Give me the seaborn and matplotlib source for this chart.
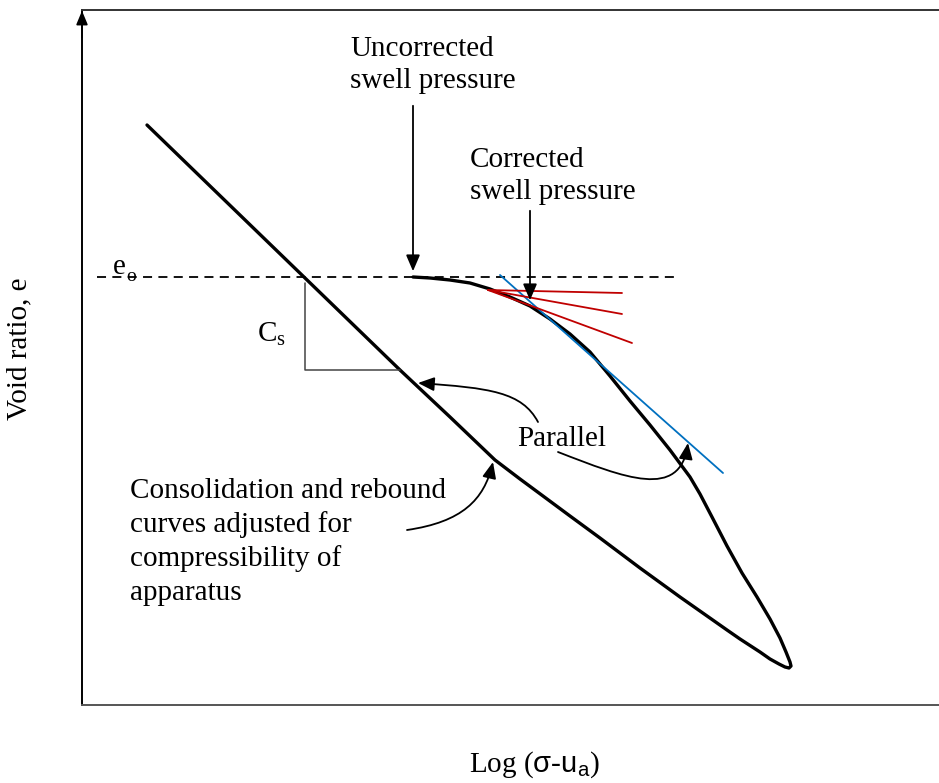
import matplotlib
matplotlib.use("Agg")
import matplotlib.pyplot as plt
import numpy as np
import pandas as pd
import seaborn as sns
from matplotlib.path import Path
from matplotlib.patches import FancyArrowPatch

sns.set_theme(style="white")
plt.rcParams["font.family"] = ["Liberation Serif", "DejaVu Serif"]
plt.rcParams["text.color"] = "black"
plt.rcParams["mathtext.fontset"] = "custom"
plt.rcParams["mathtext.rm"] = "Liberation Serif"
plt.rcParams["mathtext.it"] = "Liberation Serif:italic"
plt.rcParams["mathtext.sf"] = "Liberation Sans"

# Schematic coordinates: x = log stress (left -> right), y = void ratio drawn downward
# Compression (loading) branch from the uncorrected swell point to the tip of the loop
load_x = [413, 430, 450, 470, 490, 510, 530, 550, 570, 590, 610, 630, 650, 670,
          690, 700, 712, 727, 742, 757, 770, 780, 786, 790, 791, 789, 785, 779]
load_y = [277, 278, 280, 283, 289, 297, 306, 319, 334, 352, 376, 401, 425, 450,
          477, 494, 517, 546, 573, 597, 619, 638, 652, 662, 666, 668, 667, 664]
# Rebound branch back up to the left
reb_x = [770, 760, 740, 727, 680, 640, 600, 570, 543, 520, 495, 450, 400, 305, 147]
reb_y = [659, 652, 639, 630, 597, 568, 538, 516, 496, 479, 460, 417, 370, 278, 125]

e0_level = 277
e0_span = [97, 677]

# Tangent (blue) parallel to rebound slope and the red construction lines
tangent_x = [500, 723]
tangent_y = [275, 473]
fan_origin = (488, 290)
fan_ends_x = [622, 622, 632]
fan_ends_y = [293, 314, 343]

# Cs slope triangle
cs_x = [305, 305, 400]
cs_y = [283, 370, 370]

curve = pd.DataFrame({
    "x": load_x + reb_x,
    "y": load_y + reb_y,
    "order": range(len(load_x) + len(reb_x)),
})

fig = plt.figure(figsize=(9.39, 7.83), dpi=100)
ax = fig.add_axes([82 / 939, 1 - 705 / 783, 1 - 82 / 939, (705 - 10) / 783])
ax.set_xlim(82, 939)
ax.set_ylim(705, 10)
ax.set_xticks([])
ax.set_yticks([])
ax.spines["right"].set_visible(False)
ax.spines["left"].set_color("black")
ax.spines["top"].set_color("#333333")
ax.spines["bottom"].set_color("#555555")
for s in ("left", "top", "bottom"):
    ax.spines[s].set_linewidth(1.4)

# arrow tip on the vertical axis
ax.annotate("", xy=(82, 8), xytext=(82, 40),
            arrowprops=dict(arrowstyle="-|>,head_length=0.6,head_width=0.25",
                            color="black", lw=1.2, mutation_scale=14),
            annotation_clip=False)

# e0 reference line
ax.plot(e0_span, [e0_level, e0_level], color="black", lw=1.3, ls=(0, (5, 3.5)))

# consolidation / rebound curve
sns.lineplot(data=curve, x="x", y="y", sort=False, estimator=None, ax=ax,
             color="black", lw=2.4, solid_joinstyle="round", solid_capstyle="round")
ax.set_xlabel("")
ax.set_ylabel("")

# Cs triangle
ax.plot(cs_x, cs_y, color="#444444", lw=1.1)

# tangent and fan lines
ax.plot(tangent_x, tangent_y, color="#0070C0", lw=1.3)
for ex, ey in zip(fan_ends_x, fan_ends_y):
    ax.plot([fan_origin[0], ex], [fan_origin[1], ey], color="#C00000", lw=1.3)

arrow_kw = dict(arrowstyle="-|>,head_length=0.7,head_width=0.3",
                color="black", lw=1.3, mutation_scale=14)

# vertical pointers for swell pressures
ax.annotate("", xy=(413, 274), xytext=(413, 103), arrowprops=arrow_kw)
ax.annotate("", xy=(530, 303), xytext=(530, 208), arrowprops=arrow_kw)


def curved_arrow(pts):
    codes = [Path.MOVETO, Path.CURVE4, Path.CURVE4, Path.CURVE4]
    p = FancyArrowPatch(path=Path(pts, codes), **arrow_kw)
    ax.add_patch(p)


curved_arrow([(538, 422), (522, 392), (490, 388), (418, 383)])
curved_arrow([(558, 452), (625, 478), (680, 500), (688, 443)])
curved_arrow([(407, 530), (462, 522), (484, 500), (493, 462)])

fs = 21
ax.text(350, 56, "Uncorrected", fontsize=fs, va="baseline", ha="left")
ax.text(350, 88, "swell pressure", fontsize=fs, va="baseline", ha="left")
ax.text(470, 167, "Corrected", fontsize=fs, va="baseline", ha="left")
ax.text(470, 199, "swell pressure", fontsize=fs, va="baseline", ha="left")
ax.text(517, 446, "Parallel", fontsize=fs, va="baseline", ha="left")
for i, line in enumerate(["Consolidation and rebound", "curves adjusted for",
                          "compressibility of", "apparatus"]):
    ax.text(130, 498 + 34 * i, line, fontsize=fs, va="baseline", ha="left")
ax.text(257, 342, r"$\mathregular{C_s}$", fontsize=fs, va="baseline", ha="left")
ax.text(113, 274, "e", fontsize=fs, va="baseline", ha="left")
ax.text(126, 281, "o", fontsize=14, va="baseline", ha="left")

fig.text(19 / 939, 1 - 349 / 783, "Void ratio, e", fontsize=fs, rotation=90,
         va="center", ha="center")
fig.text(534 / 939, 1 - 772 / 783, r"Log ($\mathsf{σ}$-$\mathsf{u_a}$)",
         fontsize=fs, va="baseline", ha="center")

fig.savefig("out.png", dpi=100)
